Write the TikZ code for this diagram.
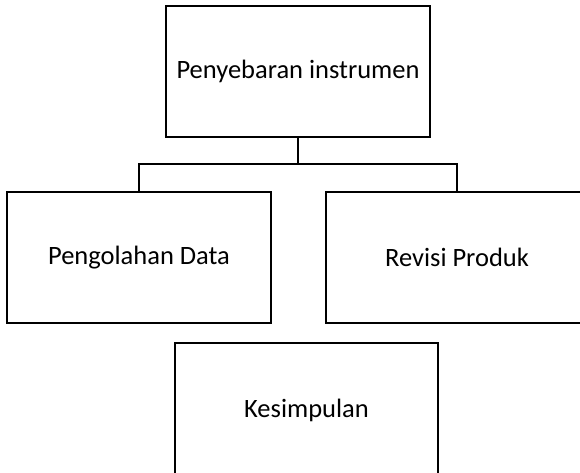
\documentclass[tikz,border=0pt]{standalone}
\usepackage{fontspec}
\setmainfont{Carlito}
\usetikzlibrary{positioning}

\tikzset{
	box/.style={rectangle, draw, line width=2.5pt, inner sep=0pt, font=\fontsize{26.5}{31}\selectfont},
	link/.style={line width=2.5pt}
}

\begin{document}
\begin{tikzpicture}[x=1pt, y=-1pt]
				\useasboundingbox (0,0) rectangle (580,473);
				\node[box, minimum width=264pt, minimum height=131pt] (sebar) at (298,71.5) {Penyebaran instrumen};
				\node[box, minimum width=264pt, minimum height=131pt] (olah) at (139,257.5) {Pengolahan Data};
				\node[box, minimum width=262pt, minimum height=131pt] (revisi) at (457,257.5) {Revisi Produk};
				\node[box, minimum width=263pt, minimum height=134pt] (simpul) at (306.5,410) {Kesimpulan};
				\coordinate (cabang) at (298,164);
				
				\draw[link] (sebar) -- (cabang);
				\draw[link] (cabang) -| (olah);
				\draw[link] (cabang) -| (revisi);
			\end{tikzpicture}
\end{document}
